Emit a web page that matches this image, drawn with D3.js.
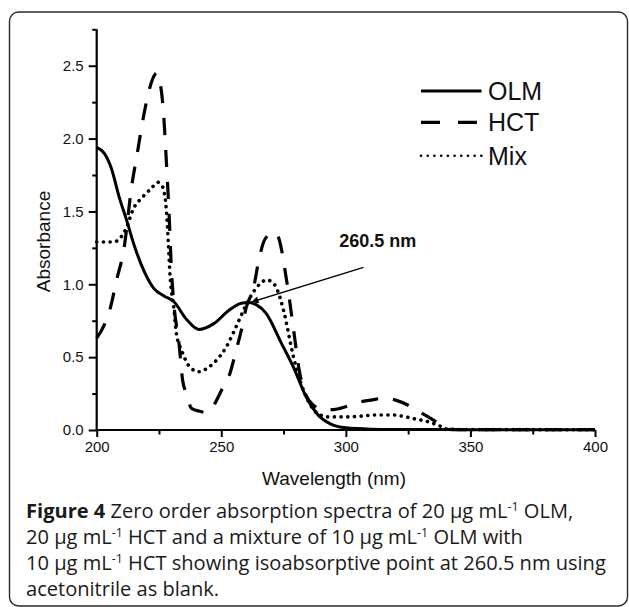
<!DOCTYPE html>
<html>
<head>
<meta charset="utf-8">
<script src="https://cdn.jsdelivr.net/npm/d3@7"></script>
<style>
  html, body { margin: 0; padding: 0; background: #fff; }
  svg { display: block; }
</style>
</head>
<body>
<svg id="chart" width="629" height="607"></svg>
<script>
// ---------------- data ----------------
const olmX = [200, 203, 206, 209, 212, 215, 219, 223, 227, 231, 236, 241, 247, 253, 258, 261, 264, 268, 274, 279, 284, 288, 294, 300, 310, 320, 340, 360, 400];
const olmY = [1.94, 1.90, 1.79, 1.60, 1.44, 1.27, 1.09, 0.97, 0.92, 0.88, 0.76, 0.69, 0.73, 0.82, 0.87, 0.875, 0.86, 0.80, 0.60, 0.43, 0.23, 0.12, 0.04, 0.015, 0.006, 0.004, 0.003, 0.002, 0.002];

const hctX = [200, 203, 205.5, 208, 211, 214, 216, 219, 221, 223, 224, 225.5, 226.8, 228, 229, 230, 231, 233, 234.5, 236, 238, 241, 244, 247, 250, 253.5, 256, 258, 260, 263, 265, 267, 269, 271, 273, 274.5, 276, 277, 279, 281.5, 284, 287, 291, 295, 300, 305, 310, 316, 320, 325, 330, 335, 339, 341, 350, 400];
const hctY = [0.63, 0.72, 0.84, 1.03, 1.25, 1.67, 1.87, 2.17, 2.33, 2.43, 2.45, 2.38, 2.18, 1.83, 1.5, 1.1, 0.86, 0.6, 0.34, 0.25, 0.15, 0.13, 0.12, 0.17, 0.27, 0.39, 0.55, 0.68, 0.84, 0.98, 1.16, 1.29, 1.34, 1.36, 1.32, 1.21, 1.05, 0.94, 0.69, 0.39, 0.24, 0.17, 0.14, 0.14, 0.16, 0.19, 0.205, 0.22, 0.205, 0.17, 0.12, 0.07, 0.02, 0.005, 0.003, 0.002];

const mixX = [200, 203, 206, 208.5, 210, 212, 214.5, 218.5, 222, 224.5, 226, 227, 228, 228.7, 229.4, 230.1, 230.8, 232, 234, 237.5, 241, 244, 247, 252, 256, 260, 263, 266, 268, 270, 272, 275, 279, 282, 285.5, 289, 293, 300, 306, 312, 319, 324, 328, 333, 338, 341, 350, 400];
const mixY = [1.29, 1.29, 1.29, 1.30, 1.33, 1.39, 1.51, 1.60, 1.66, 1.70, 1.68, 1.64, 1.50, 1.30, 1.07, 0.94, 0.86, 0.66, 0.55, 0.43, 0.40, 0.42, 0.46, 0.57, 0.71, 0.86, 0.95, 1.01, 1.03, 1.02, 0.98, 0.82, 0.50, 0.32, 0.18, 0.11, 0.09, 0.09, 0.095, 0.103, 0.103, 0.09, 0.075, 0.057, 0.025, 0.005, 0.003, 0.002];

const seriesNames = ["OLM", "HCT", "Mix"];
const xMajorTicks = [200, 250, 300, 350, 400];
const xMinorTicks = [225, 275, 325, 375];
const yMajorTicks = [0.0, 0.5, 1.0, 1.5, 2.0, 2.5];
const yMinorTicks = [0.25, 0.75, 1.25, 1.75, 2.25, 2.75];
const xTitle = "Wavelength (nm)";
const yTitle = "Absorbance";
const annotationText = "260.5 nm";
const isoPoint = [260.5, 0.875];

// ---------------- layout ----------------
const svg = d3.select("#chart");
const plotL = 96.7, plotR = 595, plotT = 29.3, plotB = 430;
const x = d3.scaleLinear().domain([200, 400]).range([plotL, plotR]);
const y = d3.scaleLinear().domain([0, 2.75]).range([plotB, plotT]);

// frame
svg.append("rect")
  .attr("x", 9.5).attr("y", 12).attr("width", 618).attr("height", 594)
  .attr("rx", 9).attr("ry", 9)
  .attr("fill", "none").attr("stroke", "#2a2a2a").attr("stroke-width", 1.4);

const axisFont = "'Liberation Sans', Arial, sans-serif";

// axes
const gx = svg.append("g").attr("transform", `translate(0,${plotB})`);
gx.call(d3.axisBottom(x).tickValues(xMajorTicks).tickSize(7).tickPadding(4).tickFormat(d3.format("d")));
const gxm = svg.append("g").attr("transform", `translate(0,${plotB})`);
gxm.call(d3.axisBottom(x).tickValues(xMinorTicks).tickSize(4.5).tickFormat(""));
const gy = svg.append("g").attr("transform", `translate(${plotL},0)`);
gy.call(d3.axisLeft(y).tickValues(yMajorTicks).tickSize(8).tickPadding(5).tickFormat(d3.format(".1f")));
const gym = svg.append("g").attr("transform", `translate(${plotL},0)`);
gym.call(d3.axisLeft(y).tickValues(yMinorTicks).tickSize(4.5).tickFormat(""));

[gx, gxm, gy, gym].forEach(g => {
  g.select(".domain").attr("stroke", "#000").attr("stroke-width", 2.2);
  g.selectAll(".tick line").attr("stroke", "#000").attr("stroke-width", 2);
  g.selectAll(".tick text").attr("font-family", axisFont).attr("font-size", 15).attr("fill", "#111");
});
gx.select(".domain").attr("d", `M${plotL},0H${plotR}`);
gxm.select(".domain").remove();
gym.select(".domain").remove();
gy.select(".domain").attr("d", `M0,${plotB}V${plotT}`);

// axis titles
svg.append("text")
  .attr("x", 334).attr("y", 485)
  .attr("text-anchor", "middle")
  .attr("font-family", axisFont).attr("font-size", 19).attr("fill", "#111")
  .text(xTitle);
svg.append("text")
  .attr("transform", `translate(50,241.5) rotate(-90)`)
  .attr("text-anchor", "middle")
  .attr("font-family", axisFont).attr("font-size", 19).attr("fill", "#111")
  .text(yTitle);

// curves
const line = d3.line().x(d => x(d[0])).y(d => y(d[1])).curve(d3.curveMonotoneX);
const styles = {
  OLM: { dash: null, width: 3, cap: "butt" },
  HCT: { dash: "17,15", width: 3.2, cap: "butt" },
  Mix: { dash: "0.1,6.6", width: 3.6, cap: "round" }
};
const seriesData = {
  OLM: olmX.map((v, i) => [v, olmY[i]]),
  HCT: hctX.map((v, i) => [v, hctY[i]]),
  Mix: mixX.map((v, i) => [v, mixY[i]])
};
seriesNames.forEach(name => {
  const st = styles[name];
  svg.append("path")
    .datum(seriesData[name])
    .attr("d", line)
    .attr("fill", "none")
    .attr("stroke", "#000")
    .attr("stroke-width", st.width)
    .attr("stroke-linecap", st.cap)
    .attr("stroke-linejoin", "round")
    .attr("stroke-dasharray", st.dash);
});

// legend
const legX1 = 421, legX2 = 481.5, legTextX = 488;
const legY = [91, 122.3, 155.7];
seriesNames.forEach((name, i) => {
  const st = styles[name];
  svg.append("line")
    .attr("x1", legX1).attr("x2", name === "HCT" ? 478 : legX2)
    .attr("y1", legY[i]).attr("y2", legY[i])
    .attr("stroke", "#000")
    .attr("stroke-width", name === "Mix" ? 2.6 : st.width)
    .attr("stroke-linecap", st.cap)
    .attr("stroke-dasharray", name === "HCT" ? "19,18" : (name === "Mix" ? "0.1,6.6" : null));
  svg.append("text")
    .attr("x", legTextX).attr("y", legY[i] + 9)
    .attr("font-family", axisFont).attr("font-size", 25).attr("fill", "#111")
    .text(name);
});

// annotation with arrow
const defs = svg.append("defs");
defs.append("marker")
  .attr("id", "arrowhead")
  .attr("viewBox", "0 0 10 10")
  .attr("refX", 10).attr("refY", 5)
  .attr("markerWidth", 10).attr("markerHeight", 7)
  .attr("markerUnits", "userSpaceOnUse")
  .attr("orient", "auto")
  .append("path").attr("d", "M0,0L10,5L0,10z").attr("fill", "#000");
svg.append("line")
  .attr("x1", 363.5).attr("y1", 267.3)
  .attr("x2", x(isoPoint[0]) + 4).attr("y2", y(isoPoint[1]) - 0.5)
  .attr("stroke", "#000").attr("stroke-width", 1.3)
  .attr("marker-end", "url(#arrowhead)");
svg.append("text")
  .attr("x", 339.3).attr("y", 247.3)
  .attr("font-family", axisFont).attr("font-size", 18).attr("font-weight", "bold").attr("fill", "#111")
  .text(annotationText);

// caption
const capFont = "'Open Sans', 'Noto Sans', sans-serif";
const captionLines = [
  [["b", "Figure 4"], ["t", " Zero order absorption spectra of 20 µg mL"], ["s", "-1"], ["t", " OLM,"]],
  [["t", "20 µg mL"], ["s", "-1"], ["t", " HCT and a mixture of 10 µg mL"], ["s", "-1"], ["t", " OLM with"]],
  [["t", "10 µg mL"], ["s", "-1"], ["t", " HCT showing isoabsorptive point at 260.5 nm using"]],
  [["t", "acetonitrile as blank."]]
];
const capBaselines = [518, 544, 570, 596];
const capG = svg.append("g").attr("font-family", capFont).attr("fill", "#1a1a1a");
const texts = captionLines.map((parts, i) => {
  const t = capG.append("text").attr("x", 26).attr("y", capBaselines[i]);
  parts.forEach(([kind, str]) => {
    const ts = t.append("tspan").text(str);
    if (kind === "b") ts.attr("font-weight", "bold");
    if (kind === "s") ts.attr("font-size", "0.62em").attr("baseline-shift", "55%");
  });
  return t;
});
// fit font size so the third line spans the caption width
let fs = 17;
capG.attr("font-size", fs);
const w = texts[2].node().getComputedTextLength();
fs = fs * (606 - 26) / w;
capG.attr("font-size", fs.toFixed(2));
</script>
</body>
</html>
